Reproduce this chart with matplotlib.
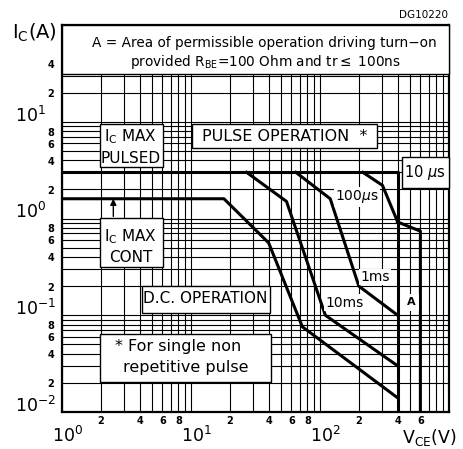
import matplotlib
matplotlib.use("Agg")
import matplotlib.pyplot as plt
from matplotlib.patches import Rectangle
from matplotlib.ticker import LogLocator, NullFormatter
import matplotlib.transforms as mtransforms

# Safe operating area curves (V_CE in V, I_C in A)
dc_v = [1, 18, 40, 73, 400]
dc_i = [1.6, 1.6, 0.56, 0.076, 0.014]

ms10_v = [27, 55, 110, 400]
ms10_i = [3, 1.5, 0.10, 0.030]

ms1_v = [65, 120, 200, 400]
ms1_i = [3, 1.6, 0.20, 0.10]

us100_v = [215, 305, 400]
us100_i = [3, 2.2, 0.92]

us10_v = [1, 400, 400]
us10_i = [3, 3, 0.01]

area_v = [400, 600, 600]
area_i = [0.92, 0.74, 0.01]

# tick labels
x_major = [1, 10, 100]
x_major_labels = ['$10^{0}$', '$10^{1}$', '$10^{2}$']
x_minor = [2, 4, 6, 8, 20, 40, 60, 80, 200, 400, 600]
x_minor_labels = ['2', '4', '6', '8', '2', '4', '6', '8', '2', '4', '6']
y_major = [0.01, 0.1, 1, 10]
y_major_labels = ['$10^{-2}$', '$10^{-1}$', '$10^{0}$', '$10^{1}$']
y_minor = [0.02, 0.04, 0.06, 0.08, 0.2, 0.4, 0.6, 0.8, 2, 4, 6, 8, 20, 40]
y_minor_labels = ['2', '4', '6', '8', '2', '4', '6', '8', '2', '4', '6', '8', '2', '4']

plt.rcParams['font.family'] = ['DejaVu Sans']
plt.rcParams['mathtext.fontset'] = 'dejavusans'

fig = plt.figure(figsize=(4.64, 4.49), dpi=100)
ax = fig.add_axes([62 / 464, 37 / 449, 387 / 464, 387 / 449])
ax.set_xscale('log')
ax.set_yscale('log')
ax.set_xlim(1, 1000)
ax.set_ylim(0.01, 100)

ax.xaxis.set_minor_locator(LogLocator(base=10, subs=range(2, 10)))
ax.yaxis.set_minor_locator(LogLocator(base=10, subs=range(2, 10)))
ax.xaxis.set_major_formatter(NullFormatter())
ax.xaxis.set_minor_formatter(NullFormatter())
ax.yaxis.set_major_formatter(NullFormatter())
ax.yaxis.set_minor_formatter(NullFormatter())
ax.tick_params(which='both', length=0)
ax.grid(which='both', color='black', linewidth=0.8, zorder=0)
ax.set_axisbelow(True)
for s in ax.spines.values():
    s.set_linewidth(1.6)

# curves
lw = 2.2
ax.plot(us10_v, us10_i, color='black', lw=lw, zorder=4)
ax.plot(dc_v, dc_i, color='black', lw=lw, zorder=4)
ax.plot(ms10_v, ms10_i, color='black', lw=lw, zorder=4)
ax.plot(ms1_v, ms1_i, color='black', lw=lw, zorder=4)
ax.plot(us100_v, us100_i, color='black', lw=lw, zorder=4)
ax.plot(area_v, area_i, color='black', lw=lw, zorder=4)

# white boxes that hide the grid
def box(x0, y0, x1, y1, edge='black', lw=1.0):
    ax.add_patch(Rectangle((x0, y0), x1 - x0, y1 - y0, transform=ax.transAxes,
                           facecolor='white', edgecolor=edge, linewidth=lw,
                           zorder=3, clip_on=False))

box(0.0, 0.873, 1.0, 1.0)
box(0.098, 0.633, 0.261, 0.744)
box(0.336, 0.682, 0.814, 0.744)
box(0.098, 0.375, 0.261, 0.501)
box(0.207, 0.256, 0.537, 0.326)
box(0.098, 0.078, 0.540, 0.202)
box(0.879, 0.579, 1.0, 0.659)

def label(x, y, s, size=10, **kw):
    ax.text(x, y, s, transform=ax.transAxes, ha='center', va='center',
            fontsize=size, zorder=5, **kw)

label(0.522, 0.953, 'A = Area of permissible operation driving turn\u2212on', size=9.8)
label(0.525, 0.904, r'provided R$_{\mathregular{BE}}$=100 Ohm and tr$\leq$ 100ns', size=9.8)
label(0.178, 0.711, r'I$_{\mathregular{C}}$ MAX', size=11)
label(0.178, 0.656, 'PULSED', size=11)
label(0.576, 0.713, 'PULSE OPERATION  *', size=11.5)
label(0.178, 0.452, r'I$_{\mathregular{C}}$ MAX', size=11)
label(0.178, 0.398, 'CONT', size=11)
label(0.370, 0.292, 'D.C. OPERATION', size=11)
label(0.300, 0.168, '* For single non', size=11.5)
label(0.320, 0.114, 'repetitive pulse', size=11.5)
label(0.938, 0.620, r'10 $\mu$s', size=10.5)

wbg = dict(facecolor='white', edgecolor='none', pad=1.0)
label(0.762, 0.556, r'100$\mu$s', size=10, bbox=wbg)
label(0.809, 0.349, '1ms', size=10, bbox=wbg)
label(0.731, 0.282, '10ms', size=10, bbox=wbg)
label(0.902, 0.284, 'A', size=8, fontweight='bold',
      bbox=dict(facecolor='white', edgecolor='none', pad=2.5))

# arrow from I_C MAX CONT up to the continuous line
ax.annotate('', xy=(2.5, 1.6), xytext=(2.5, 1.05),
            arrowprops=dict(arrowstyle='-|>', color='black', lw=1.0,
                            mutation_scale=9, shrinkA=0, shrinkB=0),
            zorder=5)

# tick labels drawn by hand
tx = mtransforms.blended_transform_factory(ax.transData, ax.transAxes)
ty = mtransforms.blended_transform_factory(fig.transFigure, ax.transData)
for v, s in zip(x_major, x_major_labels):
    ax.annotate(s, xy=(v, 0), xycoords=tx, xytext=(4, -10), textcoords='offset points',
                ha='center', va='top', fontsize=12.5, annotation_clip=False)
for v, s in zip(x_minor, x_minor_labels):
    ax.annotate(s, xy=(v, 0), xycoords=tx, xytext=(0, -3), textcoords='offset points',
                ha='center', va='top', fontsize=7, fontweight='bold',
                annotation_clip=False)
for v, s in zip(y_major, y_major_labels):
    ax.annotate(s, xy=(15 / 464, v), xycoords=ty,
                ha='left', va='baseline', fontsize=12.5, annotation_clip=False)
for v, s in zip(y_minor, y_minor_labels):
    ax.annotate(s, xy=(51 / 464, v), xycoords=ty, xytext=(0, -1), textcoords='offset points',
                ha='center', va='center', fontsize=7, fontweight='bold',
                annotation_clip=False)

fig.text(34 / 464, 1 - 33 / 449, r'I$_{\mathregular{C}}$(A)', ha='center', va='center', fontsize=14)
fig.text(429 / 464, 1 - 437 / 449, r'V$_{\mathregular{CE}}$(V)', ha='center', va='center', fontsize=12.5)
fig.text(448 / 464, 1 - 15 / 449, 'DG10220', ha='right', va='center', fontsize=7.5)

fig.savefig('out.png', dpi=100, facecolor='white')
